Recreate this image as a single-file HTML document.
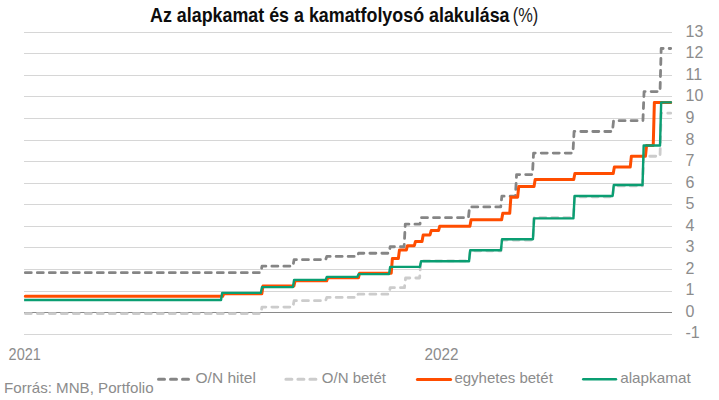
<!DOCTYPE html>
<html><head><meta charset="utf-8"><style>
html,body{margin:0;padding:0;background:#fff;width:719px;height:400px;overflow:hidden}
svg{position:absolute;left:0;top:0;display:block}
text{font-family:"Liberation Sans",sans-serif}
.ax{font-size:16px;fill:#8c8c8c}
.tt{font-size:20.5px;font-weight:bold;fill:#0d0d0d}
.tp{font-size:20.5px;fill:#1a1a1a}
.src{font-size:15px;fill:#8c8c8c}
.lg{font-size:15px;fill:#8c8c8c}
</style></head><body>
<svg width="719" height="400" viewBox="0 0 719 400">
<rect x="24" y="32" width="648" height="1" fill="#d6d6d6"/>
<text x="685.5" y="36.75" class="ax">13</text>
<rect x="24" y="53" width="648" height="1" fill="#d6d6d6"/>
<text x="685.5" y="58.30" class="ax">12</text>
<rect x="24" y="75" width="648" height="1" fill="#d6d6d6"/>
<text x="685.5" y="79.85" class="ax">11</text>
<rect x="24" y="96" width="648" height="1" fill="#d6d6d6"/>
<text x="685.5" y="101.40" class="ax">10</text>
<rect x="24" y="118" width="648" height="1" fill="#d6d6d6"/>
<text x="685.5" y="122.95" class="ax">9</text>
<rect x="24" y="140" width="648" height="1" fill="#d6d6d6"/>
<text x="685.5" y="144.50" class="ax">8</text>
<rect x="24" y="161" width="648" height="1" fill="#d6d6d6"/>
<text x="685.5" y="166.05" class="ax">7</text>
<rect x="24" y="183" width="648" height="1" fill="#d6d6d6"/>
<text x="685.5" y="187.60" class="ax">6</text>
<rect x="24" y="204" width="648" height="1" fill="#d6d6d6"/>
<text x="685.5" y="209.15" class="ax">5</text>
<rect x="24" y="226" width="648" height="1" fill="#d6d6d6"/>
<text x="685.5" y="230.70" class="ax">4</text>
<rect x="24" y="247" width="648" height="1" fill="#d6d6d6"/>
<text x="685.5" y="252.25" class="ax">3</text>
<rect x="24" y="269" width="648" height="1" fill="#d6d6d6"/>
<text x="685.5" y="273.80" class="ax">2</text>
<rect x="24" y="291" width="648" height="1" fill="#d6d6d6"/>
<text x="685.5" y="295.35" class="ax">1</text>
<rect x="24" y="312" width="648" height="1" fill="#8a8a8a"/>
<text x="685.5" y="316.90" class="ax">0</text>
<rect x="24" y="334" width="648" height="1" fill="#d6d6d6"/>
<text x="685.5" y="338.45" class="ax">-1</text>
<path d="M25.30,272.63 L260.83,272.63 L261.97,266.17 L292.93,266.17 L294.07,259.70 L325.63,259.70 L326.77,256.47 L357.43,256.47 L358.57,253.24 L389.03,253.24 L390.17,246.77 L404.13,246.77 L405.27,224.15 L419.93,224.15 L421.07,217.68 L468.43,217.68 L469.57,206.90 L500.73,206.90 L501.87,196.13 L515.43,196.13 L516.57,174.58 L532.43,174.58 L533.57,153.03 L572.93,153.03 L574.07,131.48 L612.43,131.48 L613.57,120.70 L642.93,120.70 L644.07,91.61 L660.03,91.61 L661.17,48.51 L670.70,48.51" stroke="#858585" stroke-width="2.8" stroke-dasharray="6 6" stroke-linecap="round" stroke-linejoin="round" fill="none"/>
<path d="M25.30,313.58 L260.83,313.58 L261.97,307.11 L292.93,307.11 L294.07,300.65 L325.63,300.65 L326.77,297.42 L356.93,297.42 L358.07,294.18 L389.03,294.18 L390.17,287.72 L404.43,287.72 L405.57,278.02 L419.63,278.02 L420.77,260.78 L469.03,260.78 L470.17,250.81 L500.93,250.81 L502.07,240.03 L532.93,240.03 L534.07,217.68 L573.43,217.68 L574.57,196.83 L612.63,196.83 L613.77,185.95 L642.53,185.95 L643.67,156.26 L660.03,156.26 L661.17,113.16 L670.70,113.16" stroke="#cccccc" stroke-width="2.8" stroke-dasharray="6 6" stroke-linecap="round" stroke-linejoin="round" fill="none"/>
<path d="M25.30,296.34 L222.63,296.34 L223.77,293.81 L261.83,293.81 L262.97,286.04 L293.93,286.04 L295.07,280.85 L326.63,280.85 L327.77,277.84 L358.43,277.84 L359.57,273.21 L391.23,273.21 L392.37,258.62 L398.33,258.62 L399.47,250.00 L406.33,250.00 L407.47,245.69 L414.33,245.69 L415.47,241.38 L422.03,241.38 L423.17,234.92 L430.03,234.92 L431.17,230.61 L438.53,230.61 L439.67,226.30 L469.93,226.30 L471.07,219.83 L501.63,219.83 L502.77,213.37 L509.73,213.37 L510.87,197.21 L517.63,197.21 L518.77,186.43 L534.03,186.43 L535.17,179.54 L573.73,179.54 L574.87,173.50 L613.23,173.50 L614.37,167.04 L630.23,167.04 L631.37,156.26 L645.43,156.26 L646.57,145.49 L653.23,145.49 L654.37,102.39 L670.70,102.39" stroke="#ff4d00" stroke-width="3" stroke-linecap="round" stroke-linejoin="round" fill="none"/>
<path d="M25.30,300.07 L221.03,300.07 L222.17,292.86 L260.83,292.86 L261.97,287.14 L292.93,287.14 L294.07,279.85 L325.63,279.85 L326.77,276.84 L357.43,276.84 L358.57,274.15 L389.03,274.15 L390.17,266.85 L419.93,266.85 L421.07,261.28 L469.03,261.28 L470.17,250.31 L500.93,250.31 L502.07,239.23 L532.93,239.23 L534.07,218.38 L573.43,218.38 L574.57,195.93 L612.63,195.93 L613.77,185.05 L642.53,185.05 L643.67,145.49 L660.03,145.49 L661.17,102.39 L670.70,102.39" stroke="#0a9e72" stroke-width="2.4" stroke-linecap="square" stroke-linejoin="round" fill="none"/>
<text x="8.6" y="359.6" class="ax" textLength="32.2" lengthAdjust="spacingAndGlyphs">2021</text>
<text x="424.6" y="359.6" class="ax" textLength="34" lengthAdjust="spacingAndGlyphs">2022</text>
<text x="150" y="21.8" class="tt" textLength="359.5" lengthAdjust="spacingAndGlyphs">Az alapkamat és a kamatfolyosó alakulása</text>
<text x="512.8" y="22" class="tp" textLength="25.5" lengthAdjust="spacingAndGlyphs">(%)</text>
<text x="4" y="393" class="src" textLength="149.6" lengthAdjust="spacingAndGlyphs">Forrás: MNB, Portfolio</text>
<path d="M158.5,379.3 L188.6,379.3" stroke="#858585" stroke-width="3" stroke-dasharray="6 6" stroke-linecap="round" fill="none"/>
<text x="195.5" y="382.7" class="lg" textLength="60.4" lengthAdjust="spacingAndGlyphs">O/N hitel</text>
<path d="M285.9,379.3 L316,379.3" stroke="#cccccc" stroke-width="3" stroke-dasharray="6 6" stroke-linecap="round" fill="none"/>
<text x="321.8" y="382.7" class="lg">O/N betét</text>
<path d="M417.4,379.5 L450.6,379.5" stroke="#ff4d00" stroke-width="3" stroke-linecap="round" fill="none"/>
<text x="454.4" y="382.7" class="lg">egyhetes betét</text>
<path d="M583.2,379.2 L616,379.2" stroke="#0a9e72" stroke-width="2.4" stroke-linecap="round" fill="none"/>
<text x="620.2" y="382.7" class="lg" textLength="70.6" lengthAdjust="spacingAndGlyphs">alapkamat</text>
</svg>
</body></html>
